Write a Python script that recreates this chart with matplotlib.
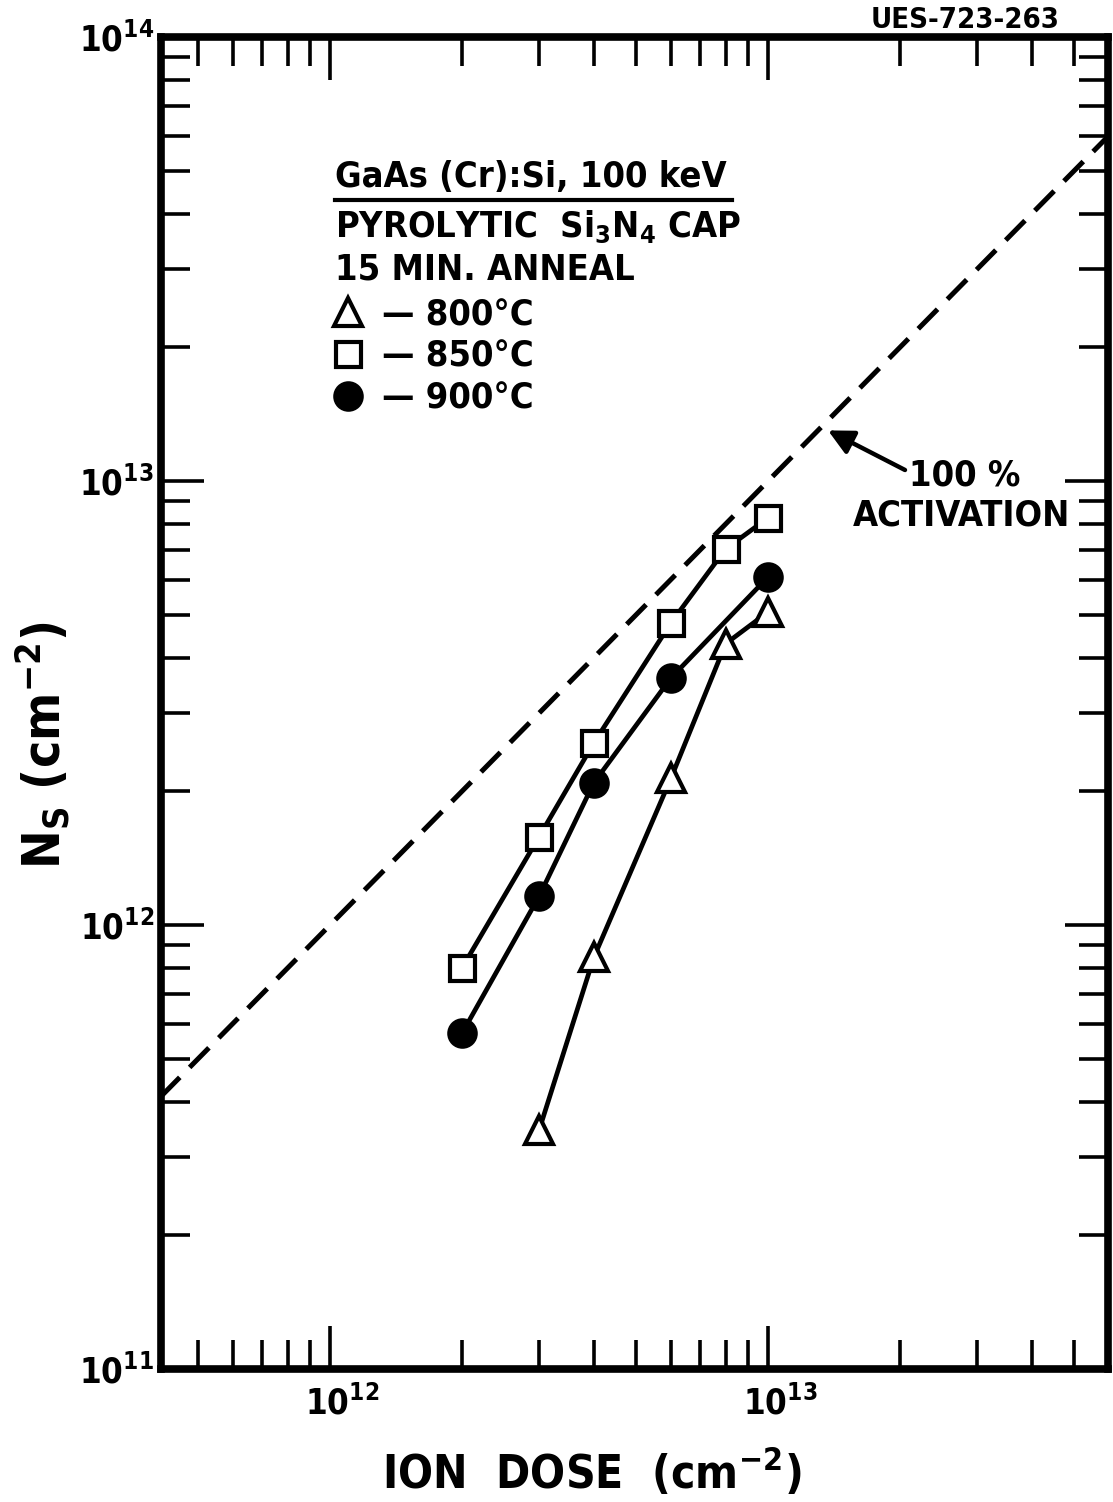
import matplotlib
matplotlib.use("Agg")
import matplotlib.pyplot as plt
import matplotlib.transforms as mtransforms
from matplotlib.lines import Line2D
from matplotlib.ticker import LogLocator, NullFormatter, FuncFormatter
import numpy as np

MATH_FONT = "DejaVu Sans:weight=bold:stretch=condensed"
plt.rcParams["font.family"] = ["DejaVu Sans"]
plt.rcParams["font.weight"] = "bold"
plt.rcParams["font.stretch"] = "condensed"
plt.rcParams["axes.labelweight"] = "bold"
plt.rcParams["mathtext.fontset"] = "custom"
plt.rcParams["mathtext.rm"] = MATH_FONT
plt.rcParams["mathtext.it"] = MATH_FONT
plt.rcParams["mathtext.bf"] = MATH_FONT
plt.rcParams["mathtext.default"] = "rm"

# Sheet carrier concentration N_S vs implanted Si dose, per anneal temperature
dose_800 = [3e12, 4e12, 6e12, 8e12, 1e13]
ns_800 = [3.45e11, 8.45e11, 2.14e12, 4.30e12, 5.07e12]
dose_850 = [2e12, 3e12, 4e12, 6e12, 8e12, 1e13]
ns_850 = [8.0e11, 1.58e12, 2.57e12, 4.79e12, 7.03e12, 8.26e12]
dose_900 = [2e12, 3e12, 4e12, 6e12, 1e13]
ns_900 = [5.7e11, 1.16e12, 2.09e12, 3.60e12, 6.08e12]

# 100 % activation reference: N_S equals the dose
activation_dose = [4.1e11, 6.0e13]

series_labels = ["\u2014 800\u00b0C", "\u2014 850\u00b0C", "\u2014 900\u00b0C"]
header_lines = ["GaAs (Cr):Si, 100 keV", "PYROLYTIC  Si$_3$N$_4$ CAP", "15 MIN. ANNEAL"]

W, H = 1113, 1502
fig = plt.figure(figsize=(W / 100, H / 100), dpi=100)
ax = fig.add_axes([161 / W, 1 - 1369 / H, 947 / W, 1332 / H])
ax.set_xscale("log")
ax.set_yscale("log")
ax.set_xlim(10 ** 11.614, 10 ** 13.776)
ax.set_ylim(1e11, 1e14)

line_kw = dict(color="black", lw=3.4, markeredgewidth=3.0, markeredgecolor="black")
ax.plot(activation_dose, activation_dose, color="black", lw=3.6,
        dashes=(5.5, 2.8), solid_capstyle="butt")
ax.plot(dose_850, ns_850, marker="s", markersize=18, markerfacecolor="white", **line_kw)
ax.plot(dose_900, ns_900, marker="o", markersize=19, markerfacecolor="black", **line_kw)
ax.plot(dose_800, ns_800, marker="^", markersize=20, markerfacecolor="white", **line_kw)

# Frame and ticks
for sp in ax.spines.values():
    sp.set_linewidth(5.5)
ax.xaxis.set_major_locator(LogLocator(base=10, numticks=10))
ax.yaxis.set_major_locator(LogLocator(base=10, numticks=10))
for axis in (ax.xaxis, ax.yaxis):
    axis.set_minor_locator(LogLocator(base=10, subs=np.arange(2, 10), numticks=40))
    axis.set_minor_formatter(NullFormatter())
    axis.set_major_formatter(FuncFormatter(lambda v, _: "$10^{%d}$" % round(np.log10(v))))
ax.tick_params(which="both", direction="in", top=True, right=True, width=2.6, color="black")
ax.tick_params(which="major", length=31, labelsize=25)
ax.tick_params(axis="x", which="major", pad=12)
ax.tick_params(axis="y", which="major", pad=5)
ax.tick_params(which="minor", length=21)

# shift x tick labels so the "10" sits under its tick
shift = mtransforms.ScaledTranslation(12 / 100, 0, fig.dpi_scale_trans)
for lab in ax.get_xticklabels():
    lab.set_transform(lab.get_transform() + shift)

ax.set_xlabel("ION  DOSE  (cm$^{-2}$)", fontsize=33)
ax.xaxis.set_label_coords((592 - 161) / 947, (1369 - 1446) / 1332)
ax.set_ylabel("N$_S$ (cm$^{-2}$)", fontsize=37)
ax.yaxis.set_label_coords((72 - 161) / 947, (1369 - 745) / 1332)

# Legend header block
def axfrac(px, py):
    return (px - 161) / 947, (1369 - py) / 1332

for txt, base in zip(header_lines, [187, 237, 279]):
    x0, y0 = axfrac(335, base)
    ax.text(x0, y0, txt, transform=ax.transAxes, fontsize=26, va="baseline", ha="left")
u0 = axfrac(335, 200)
u1 = axfrac(732, 200)
ax.add_line(Line2D([u0[0], u1[0]], [u0[1], u1[1]], transform=ax.transAxes,
                   color="black", lw=3.0))

handles = [
    Line2D([], [], ls="none", marker="^", markersize=20, markerfacecolor="white",
           markeredgecolor="black", markeredgewidth=3.0),
    Line2D([], [], ls="none", marker="s", markersize=18, markerfacecolor="white",
           markeredgecolor="black", markeredgewidth=3.0),
    Line2D([], [], ls="none", marker="o", markersize=19, markerfacecolor="black",
           markeredgecolor="black", markeredgewidth=3.0),
]
lx, ly = axfrac(330, 298)
ax.legend(handles, series_labels, loc="upper left", bbox_to_anchor=(lx, ly),
          frameon=False, fontsize=26, borderpad=0, borderaxespad=0,
          handlelength=1.0, handletextpad=0.45, labelspacing=0.22)

# 100 % activation callout
tx, ty = axfrac(965, 485)
ax.text(tx, ty, "100 %", transform=ax.transAxes, fontsize=26, ha="center", va="baseline")
tx, ty = axfrac(962, 525)
ax.text(tx, ty, "ACTIVATION", transform=ax.transAxes, fontsize=26, ha="center", va="baseline")
ax.annotate("", xy=(1.37e13, 1.30e13), xycoords="data",
            xytext=axfrac(905, 470), textcoords="axes fraction",
            arrowprops=dict(arrowstyle="-|>", color="black", lw=3.2,
                            mutation_scale=38, shrinkA=0, shrinkB=0))

fig.text(1060 / W, 1 - 28 / H, "UES-723-263", fontsize=21, ha="right", va="baseline")

fig.savefig("out.png", dpi=100)
